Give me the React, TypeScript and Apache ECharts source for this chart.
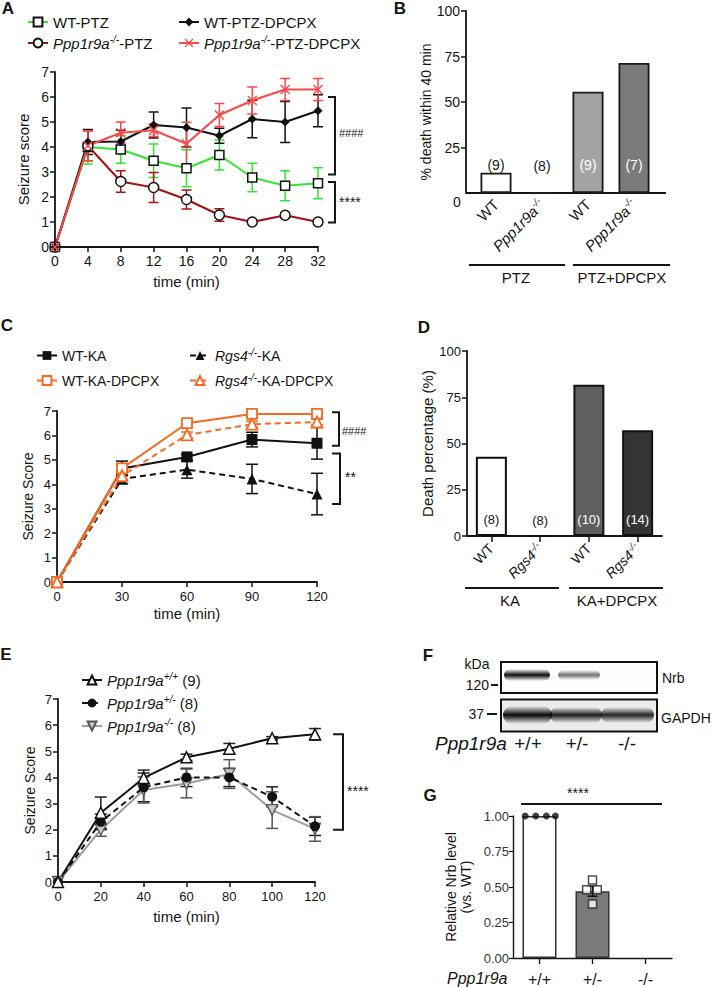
import React, { useEffect, useRef } from 'react';
import * as echarts from 'echarts';

const FONT = '"Liberation Sans", Arial, Helvetica, sans-serif';
const INK = '#151515';

// ---------- Panel A (PTZ) ----------
const timeA = [0, 4, 8, 12, 16, 20, 24, 28, 32];
const wtPtz = [0, 4.0, 3.9, 3.45, 3.15, 3.68, 2.78, 2.45, 2.55];
const wtPtzErr = [0, 0.68, 0.55, 0.67, 0.74, 0.6, 0.57, 0.6, 0.62];
const koPtz = [0, 4.05, 2.62, 2.38, 1.9, 1.28, 1.0, 1.27, 1.0];
const koPtzErr = [0, 0.6, 0.43, 0.6, 0.38, 0.25, 0, 0.1, 0];
const wtPtzDp = [0, 4.2, 4.22, 4.88, 4.78, 4.45, 5.12, 5.0, 5.45];
const wtPtzDpErr = [0, 0.5, 0.45, 0.52, 0.78, 0.3, 0.75, 0.82, 0.64];
const koPtzDp = [0, 4.05, 4.57, 4.67, 4.13, 5.28, 5.86, 6.3, 6.3];
const koPtzDpErr = [0, 0.6, 0.43, 0.25, 0.86, 0.46, 0.54, 0.44, 0.44];

// ---------- Panel B ----------
const groupsB = ['WT', 'Ppp1r9a-/-', 'WT', 'Ppp1r9a-/-'];
const deathB = [11.1, 0, 55.6, 71.4];
const nB = [9, 8, 9, 7];

// ---------- Panel C (KA) ----------
const timeC = [0, 30, 60, 90, 120];
const wtKa = [0, 4.65, 5.12, 5.83, 5.68];
const wtKaErr = [0, 0.3, 0.1, 0.3, 0.65];
const koKa = [0, 4.22, 4.6, 4.22, 3.6];
const koKaErr = [0, 0.2, 0.35, 0.6, 0.85];
const wtKaDp = [0, 4.65, 6.5, 6.88, 6.88];
const wtKaDpErr = [0, 0.15, 0.1, 0.1, 0.1];
const koKaDp = [0, 4.35, 6.02, 6.46, 6.55];
const koKaDpErr = [0, 0.15, 0.12, 0.12, 0.12];

// ---------- Panel D ----------
const groupsD = ['WT', 'Rgs4-/-', 'WT', 'Rgs4-/-'];
const deathD = [42.9, 0, 81.8, 57.1];
const nD = [8, 8, 10, 14];

// ---------- Panel E ----------
const timeE = [0, 20, 40, 60, 80, 100, 120];
const wtE = [0, 2.65, 3.98, 4.77, 5.1, 5.5, 5.65];
const wtEErr = [0, 0.6, 0.3, 0.12, 0.2, 0.06, 0.22];
const hetE = [0, 2.3, 3.62, 4.0, 4.0, 3.26, 2.13];
const hetEErr = [0, 0.3, 0.55, 0.35, 0.35, 0.38, 0.35];
const koE = [0, 2.0, 3.52, 3.77, 4.13, 2.75, 2.03];
const koEErr = [0, 0.25, 0.5, 0.55, 0.55, 0.7, 0.47];

// ---------- Panel G ----------
const genotypesG = ['+/+', '+/-', '-/-'];
const meanG = [1.0, 0.47, 0];
const semG = [0, 0.035, 0];
// x = category index + jitter
const dotsWtX = [-0.27, -0.07, 0.13, 0.3];
const dotsWtY = [1, 1, 1, 1];
const dotsHetX = [1.0, 0.89, 1.09, 1.0];
const dotsHetY = [0.55, 0.48, 0.48, 0.38];

// ---------- layout ----------
const G_A = { left: 55, top: 72, width: 263, height: 175 };
const G_B = { left: 473, top: 11, width: 184, height: 182 };
const G_C = { left: 57, top: 411, width: 260, height: 171 };
const G_D = { left: 467, top: 351, width: 195, height: 185 };
const G_E = { left: 58, top: 699, width: 257, height: 183 };
const G_G = { left: 513, top: 816, width: 159, height: 142 };

const geneRe = /^(Ppp1r9a|Rgs4)([+-]\/[+-])(.*)$/;
function richName(name: string) {
  const m = String(name).match(geneRe);
  if (!m) return name;
  return `{i|${m[1]}}{s|${m[2]}}` + (m[3] ? `{n|${m[3]}}` : '');
}
function richStyles(size: number) {
  const sub = Math.round(size * 0.68);
  return {
    i: { fontFamily: FONT, fontStyle: 'italic', fontSize: size, lineHeight: size + 3, color: INK },
    s: { fontFamily: FONT, fontStyle: 'italic', fontSize: sub, lineHeight: sub, verticalAlign: 'top', color: INK },
    n: { fontFamily: FONT, fontSize: size, lineHeight: size + 3, color: INK },
  };
}

const axLine = (w = 1.8) => ({ show: true, onZero: false, lineStyle: { color: INK, width: w } });
const axTick = (len = 5, w = 1.5) => ({ show: true, length: len, lineStyle: { color: INK, width: w } });
const axLabel = (size: number, extra: any = {}) => ({ color: INK, fontSize: size, fontFamily: FONT, ...extra });

function valueAxis(gridIndex: number, min: number, max: number, interval: number, size: number, extra: any = {}) {
  return {
    type: 'value', gridIndex, min, max, interval,
    splitLine: { show: false },
    axisLine: axLine(), axisTick: axTick(), axisLabel: axLabel(size, { margin: 6 }),
    ...extra,
  };
}
const nameStyle = (size: number, extra: any = {}) => ({ fontSize: size, color: INK, fontFamily: FONT, fontWeight: 'normal', ...extra });

function lineSeries(name: string, xi: number, yi: number, xs: number[], ys: number[], o: any) {
  return {
    type: 'line', name, xAxisIndex: xi, yAxisIndex: yi,
    data: xs.map((x, i) => [x, ys[i]]),
    symbol: o.symbol, symbolSize: o.size, symbolRotate: o.rotate || 0,
    lineStyle: { color: o.line, width: o.width || 2, type: o.dash ? [6, 4] : 'solid' },
    itemStyle: { color: o.fill, borderColor: o.border, borderWidth: o.bw ?? 1.5 },
    z: o.z || 4, emphasis: { disabled: true }, silent: true,
  };
}

function errSeries(name: string, xi: number, yi: number, xs: number[], ys: number[], es: number[], color: string, cap: number, width = 1.5) {
  const data = xs.map((x, i) => [x, ys[i] - es[i], ys[i] + es[i]]).filter((_, i) => es[i] > 0);
  return {
    type: 'custom', name, xAxisIndex: xi, yAxisIndex: yi, data, clip: false,
    encode: { x: 0, y: [1, 2] }, z: 3, silent: true,
    renderItem: (_p: any, api: any) => {
      const x = api.value(0), lo = api.value(1), hi = api.value(2);
      const a = api.coord([x, lo]), b = api.coord([x, hi]);
      const st = { stroke: color, lineWidth: width };
      return {
        type: 'group', children: [
          { type: 'line', shape: { x1: a[0], y1: a[1], x2: b[0], y2: b[1] }, style: st },
          { type: 'line', shape: { x1: a[0] - cap, y1: a[1], x2: a[0] + cap, y2: a[1] }, style: st },
          { type: 'line', shape: { x1: b[0] - cap, y1: b[1], x2: b[0] + cap, y2: b[1] }, style: st },
        ],
      };
    },
  };
}

function legendCol(names: string[], left: number, top: number, gap: number, size: number) {
  return {
    data: names, left, top, orient: 'vertical', itemWidth: 20, itemHeight: 11, itemGap: gap,
    padding: 0, selectedMode: false, formatter: richName,
    textStyle: { fontFamily: FONT, fontSize: size, fontWeight: 'normal', color: INK, lineHeight: size + 3, rich: richStyles(size) },
  };
}

const RED = '#f94848';
const DARKRED = '#a31212';
const GREEN = '#2fe62f';
const ORANGE = '#f46a22';
const XPATH = 'path://M0,1 L1,0 L5,4 L9,0 L10,1 L6,5 L10,9 L9,10 L5,6 L1,10 L0,9 L4,5 Z';

function buildOption() {
  const barItems = (vals: number[], colors: string[], labelColors: string[]) =>
    vals.map((v, i) => ({ value: v, itemStyle: { color: colors[i] }, label: { color: labelColors[i] } }));

  return {
    animation: false,
    backgroundColor: '#fff',
    textStyle: { fontFamily: FONT },
    grid: [G_A, G_B, G_C, G_D, G_E, G_G],
    xAxis: [
      valueAxis(0, 0, 32, 4, 14, { name: 'time (min)', nameLocation: 'middle', nameGap: 27, nameTextStyle: nameStyle(15), axisLabel: axLabel(14, { margin: 7 }) }),
      {
        type: 'category', gridIndex: 1, data: groupsB,
        axisLine: { show: false }, axisTick: { show: false },
        axisLabel: { ...axLabel(15), rotate: 45, interval: 0, margin: 9, formatter: richName, rich: richStyles(15) },
      },
      valueAxis(2, 0, 120, 30, 13, { name: 'time (min)', nameLocation: 'middle', nameGap: 24, nameTextStyle: nameStyle(15), axisLabel: axLabel(13, { margin: 8 }) }),
      {
        type: 'category', gridIndex: 3, data: groupsD,
        axisLine: axLine(1.8), axisTick: { ...axTick(6), alignWithLabel: true },
        axisLabel: { ...axLabel(14), rotate: 45, interval: 0, margin: 10, formatter: richName, rich: richStyles(14) },
      },
      valueAxis(4, 0, 120, 20, 13, { name: 'time (min)', nameLocation: 'middle', nameGap: 27, nameTextStyle: nameStyle(15), axisLabel: axLabel(13, { margin: 8 }) }),
      {
        type: 'category', gridIndex: 5, data: genotypesG,
        axisLine: axLine(1.4), axisTick: { ...axTick(6, 1.3), alignWithLabel: true },
        axisLabel: { ...axLabel(16), margin: 13 },
      },
      { type: 'value', gridIndex: 5, min: -0.5, max: 2.5, show: false },
    ],
    yAxis: [
      valueAxis(0, 0, 7, 1, 14, { name: 'Seizure score', nameLocation: 'middle', nameGap: 24, nameTextStyle: nameStyle(15) }),
      valueAxis(1, 0, 100, 25, 14, {
        offset: 7, name: '% death within 40 min', nameLocation: 'middle', nameGap: 30,
        nameTextStyle: nameStyle(14, { padding: [0, 20, 0, 0] }),
        axisLabel: axLabel(14, { margin: 6, showMinLabel: false }),
      }),
      valueAxis(2, 0, 7, 1, 13, { name: 'Seizure Score', nameLocation: 'middle', nameGap: 22, nameTextStyle: nameStyle(14) }),
      valueAxis(3, 0, 100, 25, 13, { name: 'Death percentage (%)', nameLocation: 'middle', nameGap: 28, nameTextStyle: nameStyle(15) }),
      valueAxis(4, 0, 7, 1, 13, { name: 'Seizure Score', nameLocation: 'middle', nameGap: 21, nameTextStyle: nameStyle(14) }),
      valueAxis(5, 0, 1, 0.25, 13, {
        name: 'Relative Nrb level\n(vs. WT)', nameLocation: 'middle', nameGap: 40,
        nameTextStyle: nameStyle(14, { lineHeight: 15 }),
        axisLine: axLine(1.4), axisTick: axTick(4, 1.2),
        axisLabel: axLabel(13, { margin: 4, color: '#333', formatter: (v: number) => v.toFixed(2) }),
      }),
    ],
    legend: [
      legendCol(['WT-PTZ', 'Ppp1r9a-/--PTZ'], 27, 13, 3, 15),
      legendCol(['WT-PTZ-DPCPX', 'Ppp1r9a-/--PTZ-DPCPX'], 178, 13, 3, 15),
      legendCol(['WT-KA', 'WT-KA-DPCPX'], 36, 347, 8, 14),
      legendCol(['Rgs4-/--KA', 'Rgs4-/--KA-DPCPX'], 189, 347, 8, 14),
      legendCol(['Ppp1r9a+/+ (9)', 'Ppp1r9a+/- (8)', 'Ppp1r9a-/- (8)'], 81, 671, 5, 15),
    ],
    series: [
      // A
      errSeries('errA1', 0, 0, timeA, wtPtz, wtPtzErr, GREEN, 5),
      errSeries('errA2', 0, 0, timeA, koPtz, koPtzErr, DARKRED, 5),
      errSeries('errA3', 0, 0, timeA, wtPtzDp, wtPtzDpErr, '#111', 5),
      errSeries('errA4', 0, 0, timeA, koPtzDp, koPtzDpErr, RED, 5),
      lineSeries('WT-PTZ', 0, 0, timeA, wtPtz, { symbol: 'rect', size: 9, line: GREEN, fill: '#fff', border: '#111' }),
      lineSeries('Ppp1r9a-/--PTZ', 0, 0, timeA, koPtz, { symbol: 'circle', size: 10, line: DARKRED, fill: '#fff', border: '#111' }),
      lineSeries('WT-PTZ-DPCPX', 0, 0, timeA, wtPtzDp, { symbol: 'diamond', size: 9, line: '#111', fill: '#111', border: '#111', bw: 0 }),
      lineSeries('Ppp1r9a-/--PTZ-DPCPX', 0, 0, timeA, koPtzDp, { symbol: XPATH, size: 10, line: RED, fill: RED, border: RED, bw: 0 }),
      // B
      {
        type: 'bar', name: 'deathB', xAxisIndex: 1, yAxisIndex: 1, barWidth: 31, silent: true,
        data: barItems(deathB, ['#ffffff', '#ffffff', '#a4a4a7', '#7b7b7b'], [INK, INK, '#ffffff', '#ffffff']),
        itemStyle: { borderColor: '#1a1a1a', borderWidth: 1.8 },
        label: { show: true, position: 'insideBottom', distance: 21, fontSize: 14, fontFamily: FONT, formatter: (p: any) => `(${nB[p.dataIndex]})` },
      },
      // C
      errSeries('errC1', 2, 2, timeC, wtKa, wtKaErr, '#111', 6),
      errSeries('errC2', 2, 2, timeC, koKa, koKaErr, '#111', 6),
      errSeries('errC3', 2, 2, timeC, wtKaDp, wtKaDpErr, ORANGE, 6),
      errSeries('errC4', 2, 2, timeC, koKaDp, koKaDpErr, ORANGE, 6),
      lineSeries('WT-KA', 2, 2, timeC, wtKa, { symbol: 'rect', size: 11, line: '#111', fill: '#111', border: '#111', bw: 0 }),
      lineSeries('Rgs4-/--KA', 2, 2, timeC, koKa, { symbol: 'triangle', size: 11, line: '#111', fill: '#111', border: '#111', bw: 0, dash: true }),
      lineSeries('WT-KA-DPCPX', 2, 2, timeC, wtKaDp, { symbol: 'rect', size: 10, line: ORANGE, fill: '#fff', border: ORANGE, bw: 1.8 }),
      lineSeries('Rgs4-/--KA-DPCPX', 2, 2, timeC, koKaDp, { symbol: 'triangle', size: 11, line: ORANGE, fill: '#fff', border: ORANGE, bw: 1.8, dash: true }),
      // D
      {
        type: 'bar', name: 'deathD', xAxisIndex: 3, yAxisIndex: 3, barWidth: 31, silent: true,
        data: barItems(deathD, ['#ffffff', '#ffffff', '#5f5f5f', '#343434'], [INK, INK, '#ffffff', '#ffffff']),
        itemStyle: { borderColor: '#111', borderWidth: 2 },
        label: { show: true, position: 'insideBottom', distance: 10, fontSize: 13, fontFamily: FONT, formatter: (p: any) => `(${nD[p.dataIndex]})` },
      },
      // E
      errSeries('errE1', 4, 4, timeE, wtE, wtEErr, '#222', 6),
      errSeries('errE2', 4, 4, timeE, hetE, hetEErr, '#222', 6),
      errSeries('errE3', 4, 4, timeE, koE, koEErr, '#555', 6),
      lineSeries('Ppp1r9a-/- (8)', 4, 4, timeE, koE, { symbol: 'triangle', rotate: 180, size: 11, line: '#9c9c9c', fill: '#c9c9c9', border: '#555', bw: 1.3 }),
      lineSeries('Ppp1r9a+/- (8)', 4, 4, timeE, hetE, { symbol: 'circle', size: 10, line: '#111', fill: '#111', border: '#111', bw: 0, dash: true }),
      lineSeries('Ppp1r9a+/+ (9)', 4, 4, timeE, wtE, { symbol: 'triangle', size: 11, line: '#111', fill: '#fff', border: '#111', bw: 1.5 }),
      // G
      {
        type: 'bar', name: 'nrbG', xAxisIndex: 5, yAxisIndex: 5, barWidth: 34, silent: true,
        data: meanG.map((v, i) => ({ value: v, itemStyle: { color: ['#ffffff', '#7a7a7a', '#7a7a7a'][i], borderWidth: v > 0 ? 1.5 : 0 } })),
        itemStyle: { borderColor: '#333', borderWidth: 1.5 },
      },
      errSeries('errG', 6, 5, [0, 1, 2], meanG, semG, '#111', 5),
      {
        type: 'scatter', name: 'dotsWt', xAxisIndex: 6, yAxisIndex: 5, silent: true, z: 5,
        data: dotsWtX.map((x, i) => [x, dotsWtY[i]]), symbol: 'circle', symbolSize: 7,
        itemStyle: { color: '#111' },
      },
      {
        type: 'scatter', name: 'dotsHet', xAxisIndex: 6, yAxisIndex: 5, silent: true, z: 5,
        data: dotsHetX.map((x, i) => [x, dotsHetY[i]]), symbol: 'rect', symbolSize: 8,
        itemStyle: { color: '#fff', borderColor: '#222', borderWidth: 1.5 },
      },
    ],
  };
}

function txt(text: string, x: number, y: number, o: any = {}) {
  const align = o.align || 'center';
  const va = o.va || 'middle';
  return {
    type: 'text', x, y, silent: true, rotation: o.rotation || 0,
    style: {
      text, fill: o.color || INK, fontFamily: FONT, fontSize: o.size || 14,
      fontWeight: o.weight || 'normal', fontStyle: o.style || 'normal',
      align, textAlign: align, verticalAlign: va, textVerticalAlign: va,
    },
  };
}
function seg(x1: number, y1: number, x2: number, y2: number, w = 2, color = INK) {
  return { type: 'line', silent: true, shape: { x1, y1, x2, y2 }, style: { stroke: color, lineWidth: w } };
}
function bracket(x0: number, x1: number, ya: number, yb: number) {
  return {
    type: 'polyline', silent: true,
    shape: { points: [[x0, ya], [x1, ya], [x1, yb], [x0, yb]] },
    style: { stroke: INK, lineWidth: 2, fill: null },
  };
}
function band(x: number, y: number, w: number, h: number, a: number) {
  return {
    type: 'rect', silent: true, shape: { x, y, width: w, height: h, r: h / 2 },
    style: {
      fill: new echarts.graphic.LinearGradient(0, 0, 0, 1, [
        { offset: 0, color: 'rgba(0,0,0,0)' },
        { offset: 0.5, color: `rgba(0,0,0,${a})` },
        { offset: 1, color: 'rgba(0,0,0,0)' },
      ]),
    },
  };
}

function buildGraphics(chart: any) {
  const P = (g: number, x: number, y: number) => chart.convertToPixel({ gridIndex: g }, [x, y]);
  const out: any[] = [];
  // panel letters
  [['A', 8, 8], ['B', 400, 8], ['C', 7, 325], ['D', 424, 327], ['E', 6, 654], ['F', 428, 655], ['G', 430, 795]].forEach(
    ([t, x, y]: any) => out.push(txt(t, x, y, { size: 17, weight: 'bold' }))
  );

  // A brackets
  const xrA = P(0, 32, 0)[0];
  const yA = (v: number) => P(0, 0, v)[1];
  out.push(bracket(xrA + 10, xrA + 17, yA(6.0), yA(2.9)));
  out.push(txt('####', xrA + 21, yA(4.55), { size: 11, align: 'left' }));
  out.push(bracket(xrA + 10, xrA + 17, yA(2.6), yA(0.98)));
  out.push(txt('****', xrA + 21, yA(1.8), { size: 14, align: 'left' }));

  // B: x axis line, zero label, group labels
  const b0 = P(1, 0, 0);
  out.push(seg(466, b0[1], 666, b0[1], 1.8));
  out.push(txt('0', 457, b0[1] + 9, { size: 14 }));
  out.push(seg(469, 265, 565, 265, 2));
  out.push(seg(573, 265, 670, 265, 2));
  out.push(txt('PTZ', 516, 277, { size: 15 }));
  out.push(txt('PTZ+DPCPX', 622, 277, { size: 15 }));

  // C brackets
  const xrC = P(2, 120, 0)[0];
  const yC = (v: number) => P(2, 0, v)[1];
  out.push(bracket(xrC + 15, xrC + 22, yC(6.95), yC(5.58)));
  out.push(txt('####', xrC + 25, yC(6.2), { size: 11, align: 'left' }));
  out.push(bracket(xrC + 15, xrC + 23, yC(5.26), yC(3.19)));
  out.push(txt('**', xrC + 28, yC(4.3), { size: 14, align: 'left' }));

  // D group labels
  out.push(seg(465, 588, 559, 588, 2));
  out.push(seg(569, 588, 663, 588, 2));
  out.push(txt('KA', 510, 600, { size: 15 }));
  out.push(txt('KA+DPCPX', 617, 600, { size: 15 }));

  // E bracket
  const xrE = P(4, 120, 0)[0];
  const yE = (v: number) => P(4, 0, v)[1];
  out.push(bracket(xrE + 18, xrE + 28, yE(5.65), yE(2.0)));
  out.push(txt('****', xrE + 32, yE(3.5), { size: 14, align: 'left' }));

  // F: western blot
  out.push({ type: 'rect', silent: true, shape: { x: 501, y: 662, width: 156, height: 31 }, style: { fill: '#fdfdfd', stroke: '#111', lineWidth: 2 } });
  out.push({ type: 'rect', silent: true, shape: { x: 501, y: 699.5, width: 156, height: 32 }, style: { fill: '#ececec', stroke: '#111', lineWidth: 2 } });
  out.push(band(504, 669, 46, 12, 0.95));
  out.push(band(558, 670, 42, 10, 0.55));
  out.push(band(503, 706, 49, 18, 0.97));
  out.push(band(550, 707, 52, 16, 0.88));
  out.push(band(601, 707, 53, 16, 0.85));
  out.push(txt('kDa', 477, 664, { size: 14 }));
  out.push(txt('120', 489, 685, { size: 14, align: 'right' }));
  out.push(seg(491, 685, 498, 685, 2));
  out.push(txt('37', 484, 714, { size: 14, align: 'right' }));
  out.push(seg(487, 714, 497, 714, 2));
  out.push(txt('Nrb', 662, 678, { size: 14, align: 'left' }));
  out.push(txt('GAPDH', 661, 718, { size: 14, align: 'left' }));
  out.push(txt('Ppp1r9a', 435, 743, { size: 19, align: 'left', style: 'italic' }));
  out.push(txt('+/+', 528, 743, { size: 19 }));
  out.push(txt('+/-', 577, 743, { size: 19 }));
  out.push(txt('-/-', 627, 743, { size: 19 }));

  // G annotations
  out.push(seg(521, 804, 662, 804, 2));
  out.push(txt('****', 578, 793, { size: 14 }));
  out.push(txt('Ppp1r9a', 447, 978, { size: 16, align: 'left', style: 'italic' }));
  return out;
}

export default function App() {
  const ref = useRef<HTMLDivElement>(null);
  useEffect(() => {
    const chart = echarts.init(ref.current as HTMLDivElement, null, { renderer: 'svg' });
    chart.setOption(buildOption() as any);
    chart.setOption({ graphic: buildGraphics(chart) } as any);
    return () => chart.dispose();
  }, []);
  return (
    <div
      ref={ref}
      style={{ position: 'absolute', left: 0, top: 0, width: 712, height: 987, background: '#fff' }}
    />
  );
}
